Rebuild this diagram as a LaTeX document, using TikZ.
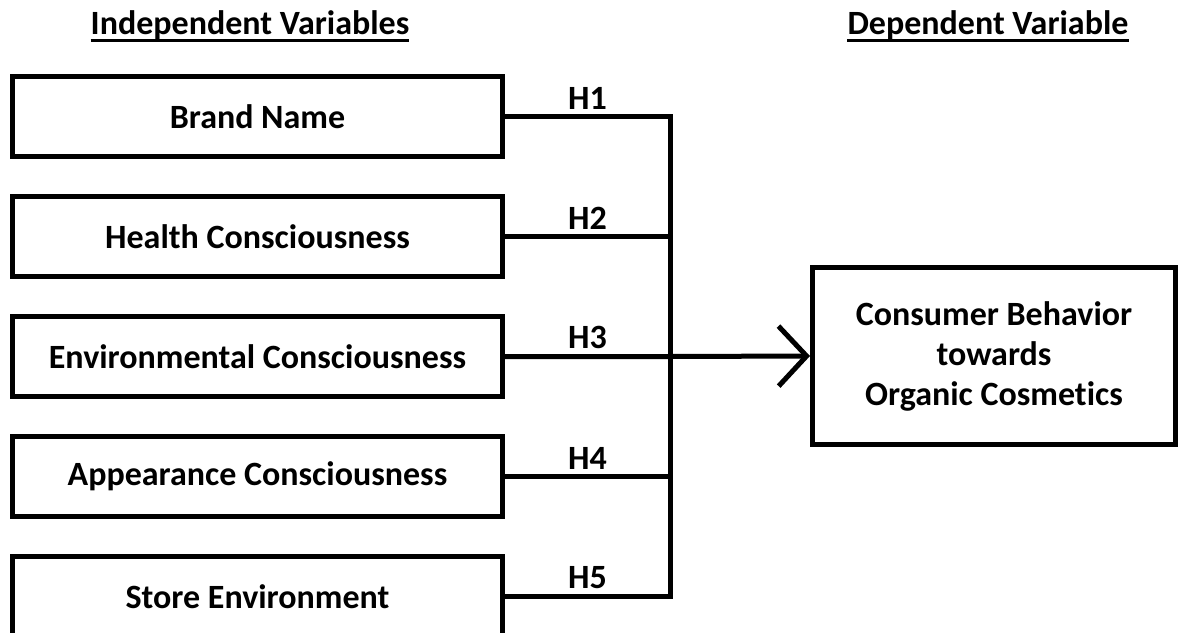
\documentclass[tikz,border=0pt]{standalone}
\usepackage{fontspec}
\setmainfont{Carlito}[Ligatures=NoCommon]
\usetikzlibrary{positioning, arrows.meta}

\begin{document}
\begin{tikzpicture}[
  x=1pt, y=-1pt,
  varbox/.style={draw, line width=5pt, minimum width=490pt, minimum height=80pt,
                 inner sep=0pt, font=\bfseries\fontsize{34}{40}\selectfont},
  link/.style={line width=5pt, line join=miter},
  hyp/.style={above, inner sep=5pt, font=\bfseries\fontsize{34}{40}\selectfont},
  heading/.style={inner sep=0pt, font=\bfseries\fontsize{34}{40}\selectfont},
]
  \useasboundingbox (0,0) rectangle (1186,632);

  % Headings
  \node[heading] (indep) at (250,25) {Independent Variables};
  \node[heading] (dep) at (988,25) {Dependent Variable};
  \draw[line width=3pt] ([yshift=-6pt]indep.base west) -- ([yshift=-6pt]indep.base east);
  \draw[line width=3pt] ([yshift=-6pt]dep.base west) -- ([yshift=-6pt]dep.base east);

  % Independent variables
  \node[varbox] (brand) at (257.5,116.5) {Brand Name};
  \node[varbox] (health) at (257.5,236.5) {Health Consciousness};
  \node[varbox] (environ) at (257.5,356.5) {Environmental Consciousness};
  \node[varbox] (appear) at (257.5,476.5) {Appearance Consciousness};
  \node[varbox] (store) at (257.5,596.5) {Store Environment};

  % Dependent variable
  \node[varbox, minimum width=363pt, minimum height=177pt, align=center,
        font=\bfseries\fontsize{34}{40}\selectfont] (behav) at (994,356)
    {Consumer Behavior\\towards\\Organic Cosmetics};

  % Hypotheses
  \coordinate (jtop) at (670,116.5);
  \coordinate (jbot) at (670,596.5);
  \draw[link] (brand.east) -- node[hyp] {H1} (jtop) -- (jbot)
              -- node[hyp] {H5} (store.east);
  \draw[link] (health.east) -- node[hyp] {H2} (health.east -| jtop);
  \draw[link] (appear.east) -- node[hyp] {H4} (appear.east -| jtop);
  \draw[link, -{Straight Barb[length=28pt, width=60pt]}] (environ.east)
    -- node[hyp] {H3} (environ.east -| jtop) -- (behav.west);
\end{tikzpicture}
\end{document}
